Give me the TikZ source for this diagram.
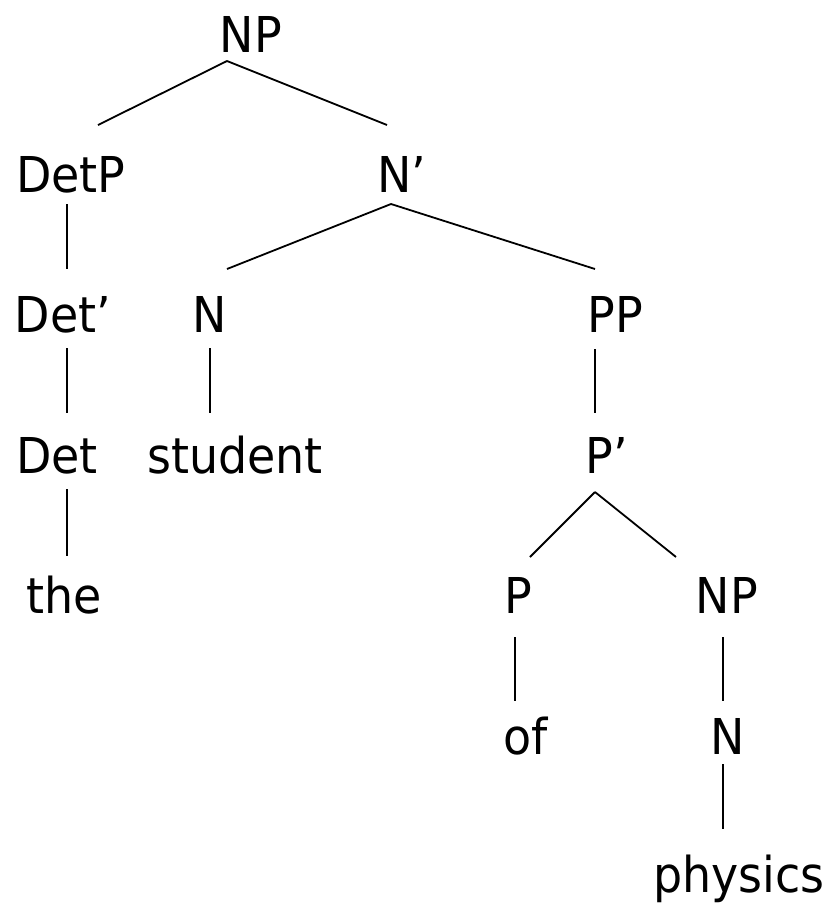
\documentclass[tikz,border=0pt]{standalone}
\usepackage{fontspec}
\setmainfont[FakeStretch=0.93]{DejaVu Sans}
\usetikzlibrary{calc}
\begin{document}
\begin{tikzpicture}[x=1pt,y=-1pt,
  lbl/.style={anchor=base,inner sep=0pt,font=\fontsize{49.4}{59}\selectfont},
  edge/.style={line width=1.8pt}]
\useasboundingbox (0,0) rectangle (829,906);
% nodes
\node[lbl] (np)   at (251,52)  {NP};
\node[lbl] (detp) at (71,192)  {DetP};
\node[lbl] (nb)   at (402,192) {N’};
\node[lbl] (detb) at (63,332)  {Det’};
\node[lbl] (n)    at (210,332) {N};
\node[lbl] (pp)   at (615,332) {PP};
\node[lbl] (det)  at (57,473)  {Det};
\node[lbl] (stu)  at (235,473) {student};
\node[lbl] (pb)   at (607,473) {P’};
\node[lbl] (the)  at (64,613)  {the};
\node[lbl] (p)    at (518,613) {P};
\node[lbl] (np2)  at (727,613) {NP};
\node[lbl] (of)   at (526,754) {of};
\node[lbl] (n2)   at (728,754) {N};
\node[lbl] (phys) at (739,892) {physics};
% connectors
\draw[edge] ($(np.base)+(-24,9)$) -- ($(detp.base)+(27,-67)$);
\draw[edge] ($(np.base)+(-24,9)$) -- ($(nb.base)+(-15,-67)$);
\draw[edge] ($(detp.base)+(-4,12)$) -- ($(detb.base)+(4,-63)$);
\draw[edge] ($(nb.base)+(-11,12)$) -- ($(n.base)+(17,-63)$);
\draw[edge] ($(nb.base)+(-11,12)$) -- ($(pp.base)+(-20,-63)$);
\draw[edge] ($(detb.base)+(4,16)$) -- ($(det.base)+(10,-60)$);
\draw[edge] ($(n.base)+(0,16)$) -- ($(stu.base)+(-25,-60)$);
\draw[edge] ($(pp.base)+(-20,17)$) -- ($(pb.base)+(-12,-60)$);
\draw[edge] ($(det.base)+(10,16)$) -- ($(the.base)+(3,-57)$);
\draw[edge] ($(pb.base)+(-12,19)$) -- ($(p.base)+(12,-56)$);
\draw[edge] ($(pb.base)+(-12,19)$) -- ($(np2.base)+(-51,-56)$);
\draw[edge] ($(p.base)+(-3,24)$) -- ($(of.base)+(-11,-53)$);
\draw[edge] ($(np2.base)+(-4,24)$) -- ($(n2.base)+(-5,-53)$);
\draw[edge] ($(n2.base)+(-5,10)$) -- ($(phys.base)+(-16,-63)$);
\end{tikzpicture}
\end{document}
